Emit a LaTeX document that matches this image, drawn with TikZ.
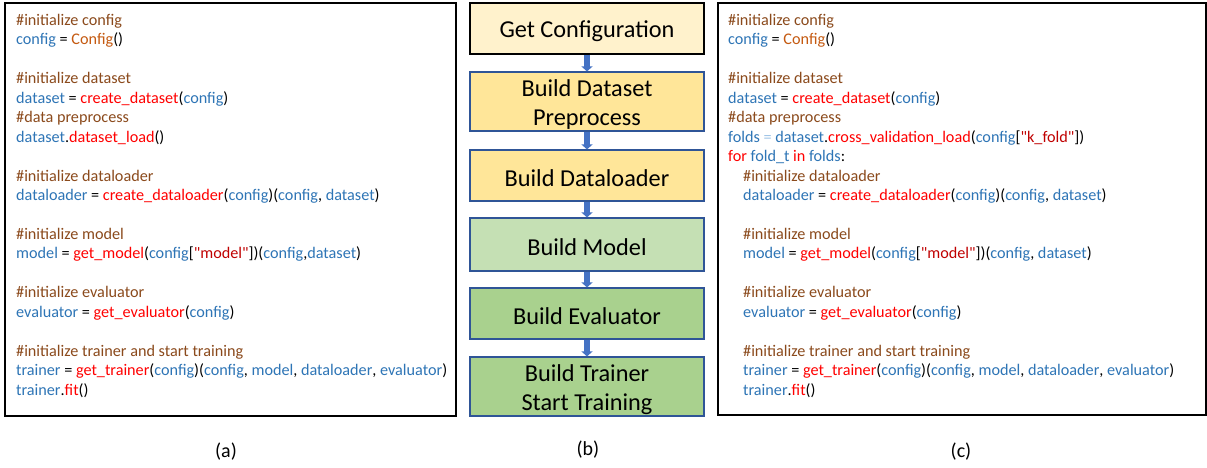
\documentclass[tikz,border=0pt]{standalone}
\usepackage{fontspec}
\setmainfont{Carlito}[Ligatures=TeXOff]
\usetikzlibrary{arrows.meta}
\definecolor{cmt}{HTML}{8B4A1C}
\definecolor{vbl}{HTML}{2E75B6}
\definecolor{fnr}{HTML}{FF0000}
\definecolor{strr}{HTML}{C00000}
\definecolor{ora}{HTML}{C55A11}
\definecolor{lbl}{HTML}{9DC3E6}
\definecolor{fillA}{HTML}{FFF2CC}
\definecolor{fillB}{HTML}{FFE699}
\definecolor{fillC}{HTML}{C5E0B4}
\definecolor{fillD}{HTML}{A9D18E}
\definecolor{bordB}{HTML}{2F5597}
\definecolor{arrB}{HTML}{4472C4}
\newcommand\cm[1]{\textcolor{cmt}{#1}}
\newcommand\vb[1]{\textcolor{vbl}{#1}}
\newcommand\fn[1]{\textcolor{fnr}{#1}}
\newcommand\sr[1]{\textcolor{strr}{\symbol{34}#1\symbol{34}}}
\newcommand\og[1]{\textcolor{ora}{#1}}
\newcommand\cl[4]{\node[codeline] (#1) at (#2,{25.5+(#3-1)*19.45}) {#4};}
\begin{document}
\begin{tikzpicture}[x=1pt,y=-1pt,
  codeline/.style={anchor=base west,inner sep=0pt,font=\fontsize{16.2}{19.5}\selectfont},
  frame/.style={draw=black,line width=1.3pt,inner sep=0pt},
  stepbox/.style={draw=bordB,line width=1.2pt,minimum width=234pt,inner sep=0pt},
  steptext/.style={inner sep=0pt,align=center,font=\fontsize{24.3}{29}\selectfont},
  flowarrow/.style={draw=arrB,line width=5.5pt,-{Triangle[width=11pt,length=5pt]}},
  sublabel/.style={inner sep=0pt,font=\fontsize{20}{24}\selectfont}]
\useasboundingbox (0,0) rectangle (1207,467);
\fill[white] (0,0) rectangle (1207,467);
% panel frames
\node[frame,minimum width=451pt,minimum height=413pt] (pa) at (230.5,209.5) {};
\node[frame,minimum width=488pt,minimum height=412pt] (pc) at (962,209) {};
% left code
\cl{a1}{16}{1}{\cm{\#initialize config}}
\cl{a2}{16}{2}{\vb{config} = \og{Config}()}
\cl{a4}{16}{4}{\cm{\#initialize dataset}}
\cl{a5}{16}{5}{\vb{dataset} = \fn{create\_dataset}(\vb{config})}
\cl{a6}{16}{6}{\cm{\#data preprocess}}
\cl{a7}{16}{7}{\vb{dataset}.\fn{dataset\_load}()}
\cl{a9}{16}{9}{\cm{\#initialize dataloader}}
\cl{a10}{16}{10}{\vb{dataloader} = \fn{create\_dataloader}(\vb{config})(\vb{config}, \vb{dataset})}
\cl{a12}{16}{12}{\cm{\#initialize model}}
\cl{a13}{16}{13}{\vb{model} = \fn{get\_model}(\vb{config}[\sr{model}])(\vb{config},\vb{dataset})}
\cl{a15}{16}{15}{\cm{\#initialize evaluator}}
\cl{a16}{16}{16}{\vb{evaluator} = \fn{get\_evaluator}(\vb{config})}
\cl{a18}{16}{18}{\cm{\#initialize trainer and start training}}
\cl{a19}{16}{19}{\vb{trainer} = \fn{get\_trainer}(\vb{config})(\vb{config}, \vb{model}, \vb{dataloader}, \vb{evaluator})}
\cl{a20}{16}{20}{\vb{trainer}.\fn{fit}()}
% right code
\cl{c1}{728}{1}{\cm{\#initialize config}}
\cl{c2}{728}{2}{\vb{config} = \og{Config}()}
\cl{c4}{728}{4}{\cm{\#initialize dataset}}
\cl{c5}{728}{5}{\vb{dataset} = \fn{create\_dataset}(\vb{config})}
\cl{c6}{728}{6}{\cm{\#data preprocess}}
\cl{c7}{728}{7}{\vb{folds} \textcolor{lbl}{=} \vb{dataset}.\fn{cross\_validation\_load}(\vb{config}[\sr{k\_fold}])}
\cl{c8}{728}{8}{\fn{for} \vb{fold\_t} \fn{in} \vb{folds}:}
\cl{c9}{743}{9}{\cm{\#initialize dataloader}}
\cl{c10}{743}{10}{\vb{dataloader} = \fn{create\_dataloader}(\vb{config})(\vb{config}, \vb{dataset})}
\cl{c12}{743}{12}{\cm{\#initialize model}}
\cl{c13}{743}{13}{\vb{model} = \fn{get\_model}(\vb{config}[\sr{model}])(\vb{config}, \vb{dataset})}
\cl{c15}{743}{15}{\cm{\#initialize evaluator}}
\cl{c16}{743}{16}{\vb{evaluator} = \fn{get\_evaluator}(\vb{config})}
\cl{c18}{743}{18}{\cm{\#initialize trainer and start training}}
\cl{c19}{743}{19}{\vb{trainer} = \fn{get\_trainer}(\vb{config})(\vb{config}, \vb{model}, \vb{dataloader}, \vb{evaluator})}
\cl{c20}{743}{20}{\vb{trainer}.\fn{fit}()}
% flow boxes
\node[stepbox,draw=black,fill=fillA,minimum height=51pt] (b1) at (587,28.5) {};
\node[stepbox,fill=fillB,minimum height=59pt] (b2) at (587,101.5) {};
\node[stepbox,fill=fillB,minimum height=51pt] (b3) at (587,175.5) {};
\node[stepbox,fill=fillC,minimum height=53pt] (b4) at (587,244.5) {};
\node[stepbox,fill=fillD,minimum height=51pt] (b5) at (587,313.5) {};
\node[stepbox,fill=fillD,minimum height=59pt] (b6) at (587,386.5) {};
\node[steptext] (t1) at ([yshift=-3pt]b1.center) {Get Configuration};
\node[steptext] (t2) at ([yshift=-3pt]b2.center) {Build Dataset\\Preprocess};
\node[steptext] (t3) at ([yshift=-3pt]b3.center) {Build Dataloader};
\node[steptext] (t4) at ([yshift=-3pt]b4.center) {Build Model};
\node[steptext] (t5) at ([yshift=-3pt]b5.center) {Build Evaluator};
\node[steptext] (t6) at ([yshift=-3pt]b6.center) {Build Trainer\\Start Training};
\draw[flowarrow] (b1.south) -- (b2.north);
\draw[flowarrow] (b2.south) -- (b3.north);
\draw[flowarrow] (b3.south) -- (b4.north);
\draw[flowarrow] (b4.south) -- (b5.north);
\draw[flowarrow] (b5.south) -- (b6.north);
% labels
\node[sublabel] (la) at (226,452) {(a)};
\node[sublabel] (lb) at (588,450) {(b)};
\node[sublabel] (lc) at (961,452) {(c)};
\end{tikzpicture}
\end{document}
